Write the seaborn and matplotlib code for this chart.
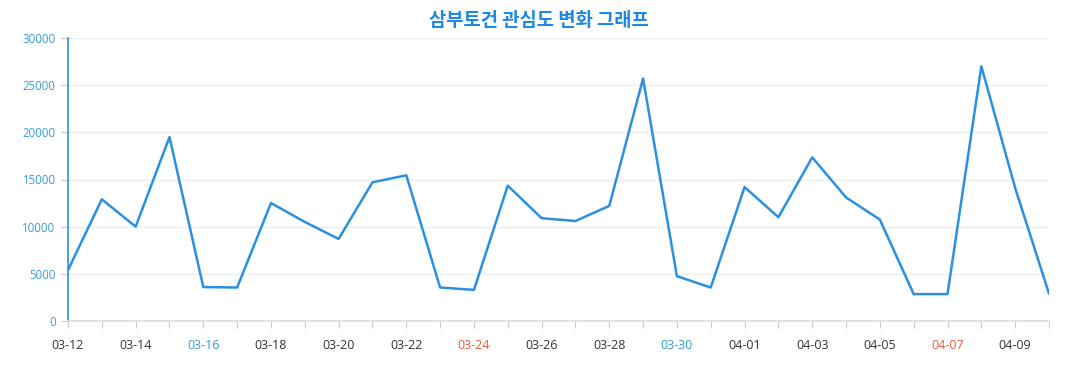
import seaborn as sns
import matplotlib.pyplot as plt
import pandas as pd

# daily interest values, 03-12 .. 04-10
dates = ['03-12', '03-13', '03-14', '03-15', '03-16', '03-17', '03-18', '03-19', '03-20', '03-21',
         '03-22', '03-23', '03-24', '03-25', '03-26', '03-27', '03-28', '03-29', '03-30', '03-31',
         '04-01', '04-02', '04-03', '04-04', '04-05', '04-06', '04-07', '04-08', '04-09', '04-10']
values = [5400, 12900, 10000, 19500, 3600, 3550, 12500, 10500, 8700, 14700,
          15450, 3550, 3300, 14350, 10900, 10600, 12200, 25700, 4750, 3550,
          14200, 11000, 17350, 13100, 10750, 2850, 2850, 27000, 14100, 2900]
# weekend label colours (sat blue, sun red)
label_colors = {'03-16': '#2d9bd2', '03-30': '#2d9bd2', '03-24': '#e0603e', '04-07': '#e0603e'}

df = pd.DataFrame({'date': dates, 'value': values})
df['pos'] = range(len(df))

sns.set_style('white')
plt.rcParams['font.family'] = ['Open Sans', 'Noto Sans CJK KR', 'DejaVu Sans']

fig = plt.figure(figsize=(10.77, 3.9), dpi=100)
ax = fig.add_axes([68 / 1077, 1 - 321 / 390, (1049 - 68) / 1077, (321 - 38) / 390])

sns.lineplot(data=df, x='pos', y='value', ax=ax, color='#2b90e0', linewidth=1.8)

ax.set_xlim(0, len(dates) - 1)
ax.set_ylim(0, 30000)
ax.set_yticks(range(0, 30001, 5000))
ax.yaxis.grid(True, color='#eeeeee', linewidth=1)
ax.set_axisbelow(True)

ax.set_xticks(df['pos'])
ax.set_xticklabels([d if i % 2 == 0 else '' for i, d in enumerate(dates)])
for lbl in ax.get_xticklabels():
    lbl.set_color(label_colors.get(lbl.get_text(), '#333333'))

ax.tick_params(axis='x', length=5, color='#cccccc', labelsize=9, pad=8, direction='out', bottom=True)
ax.tick_params(axis='y', length=5, color='#cccccc', labelsize=8.3, labelcolor='#3a9bd5', pad=4, left=True)

for side in ['top', 'right']:
    ax.spines[side].set_visible(False)
ax.spines['left'].set_color('#2b90e0')
ax.spines['left'].set_linewidth(1.2)
ax.spines['bottom'].set_color('#dddddd')
ax.spines['bottom'].set_linewidth(1.2)

ax.set_xlabel('')
ax.set_ylabel('')
fig.text(0.5, 1 - 20 / 390, '삼부토건 관심도 변화 그래프', ha='center', va='center',
         fontsize=13.5, fontweight='bold', color='#1e88e5', family=['Noto Sans CJK KR', 'DejaVu Sans'])

plt.savefig('out.png', dpi=100)
